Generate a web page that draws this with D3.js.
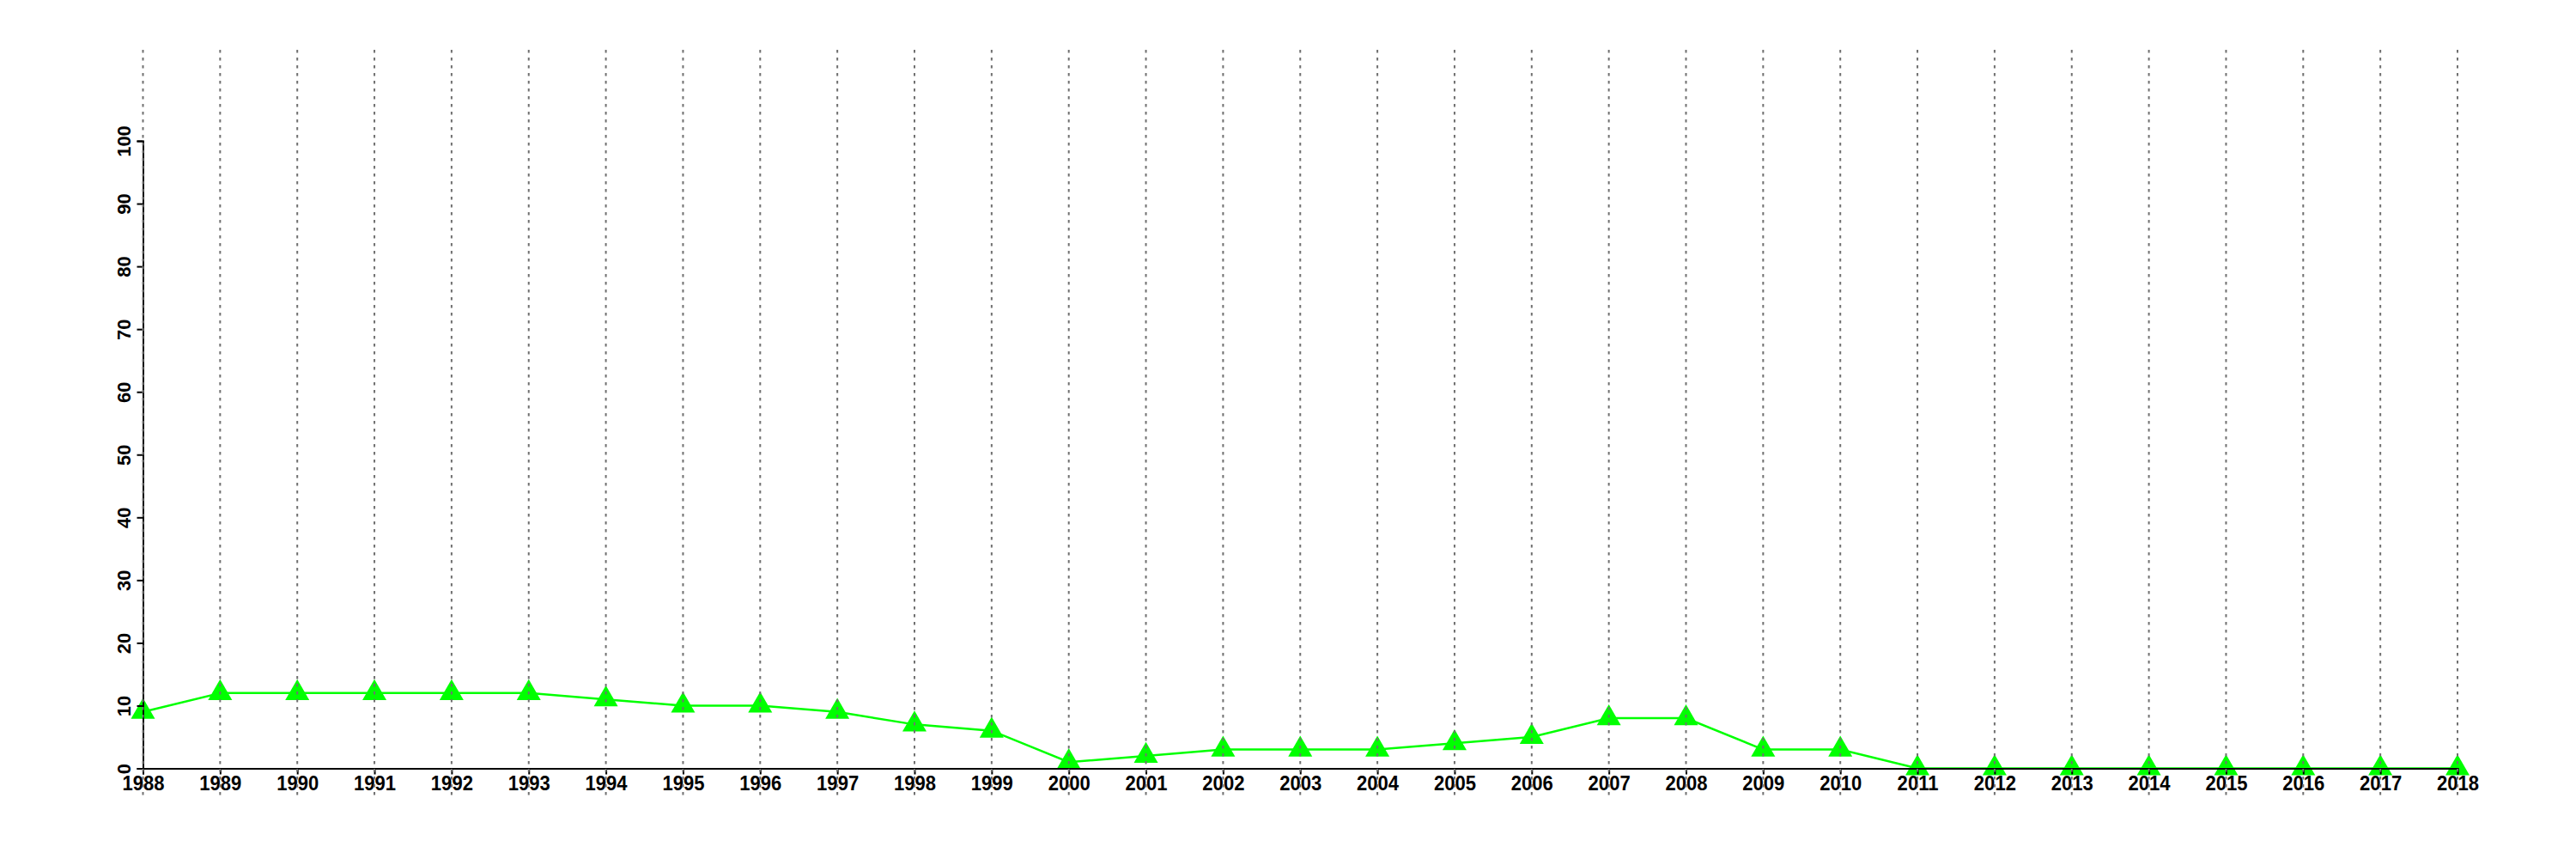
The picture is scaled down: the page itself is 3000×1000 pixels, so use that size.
<!DOCTYPE html>
<html>
<head>
<meta charset="utf-8">
<script src="https://cdn.jsdelivr.net/npm/d3@7"></script>
<style>
  html, body { margin: 0; padding: 0; background: #fff; }
  svg text { font-family: "Liberation Sans", Arial, Helvetica, sans-serif; font-weight: bold; }
</style>
</head>
<body>
<svg id="chart" width="3000" height="1000"></svg>
<script>
const years = [1988,1989,1990,1991,1992,1993,1994,1995,1996,1997,1998,1999,2000,2001,2002,2003,2004,2005,2006,2007,2008,2009,2010,2011,2012,2013,2014,2015,2016,2017,2018];
const values = [9,12,12,12,12,12,11,10,10,9,7,6,1,2,3,3,3,4,5,8,8,3,3,0,0,0,0,0,0,0,0];
const yTicks = [0,10,20,30,40,50,60,70,80,90,100];

const svg = d3.select("#chart");
const x = d3.scaleLinear().domain([1988, 2018]).range([166.5, 2862]);
const y = d3.scaleLinear().domain([0, 100]).range([894.5, 164]);

const data = years.map((yr, i) => ({ yr, v: values[i] }));

// line
svg.append("path")
  .datum(data)
  .attr("fill", "none")
  .attr("stroke", "#00ff00")
  .attr("stroke-width", 2.5)
  .attr("d", d3.line().x(d => x(d.yr)).y(d => y(d.v)));

// points
const tri = d3.symbol().type(d3.symbolTriangle).size(340);
svg.append("g").selectAll("path")
  .data(data)
  .join("path")
  .attr("d", tri)
  .attr("fill", "#00ff00")
  .attr("transform", d => `translate(${x(d.yr)},${y(d.v)})`);

// x axis
const xAxis = d3.axisBottom(x).tickValues(years).tickFormat(d3.format("d")).tickSizeOuter(0).tickSize(7);
const gx = svg.append("g").attr("transform", `translate(0,${y(0)})`).call(xAxis);
gx.select(".domain").attr("stroke", "#000").attr("stroke-width", 2);
gx.selectAll(".tick line").attr("stroke", "#000").attr("stroke-width", 2);
gx.selectAll(".tick text")
  .attr("font-size", 24).attr("fill", "#000")
  .attr("font-family", "'Liberation Sans', Arial, sans-serif").attr("font-weight", "bold")
  .attr("y", null).attr("dy", null)
  .attr("text-anchor", "middle")
  .attr("transform", "translate(0,25.5) scale(0.92,1)");

// y axis
const yAxis = d3.axisLeft(y).tickValues(yTicks).tickSizeOuter(0).tickSize(7);
const gy = svg.append("g").attr("transform", `translate(${x(1988)},0)`).call(yAxis);
gy.select(".domain").attr("stroke", "#000").attr("stroke-width", 2);
gy.selectAll(".tick line").attr("stroke", "#000").attr("stroke-width", 2);
gy.selectAll(".tick text")
  .attr("font-size", 22).attr("fill", "#000")
  .attr("font-family", "'Liberation Sans', Arial, sans-serif").attr("font-weight", "bold")
  .attr("x", null).attr("dy", null)
  .attr("text-anchor", "middle")
  .attr("transform", "translate(-15,0) rotate(-90)");

// vertical dotted grid
svg.append("g").selectAll("line")
  .data(years)
  .join("line")
  .attr("x1", d => x(d)).attr("x2", d => x(d))
  .attr("y1", 58).attr("y2", 927)
  .attr("stroke", "#707070")
  .attr("stroke-width", 2)
  .attr("stroke-dasharray", "3.5,5.5");
</script>
</body>
</html>
